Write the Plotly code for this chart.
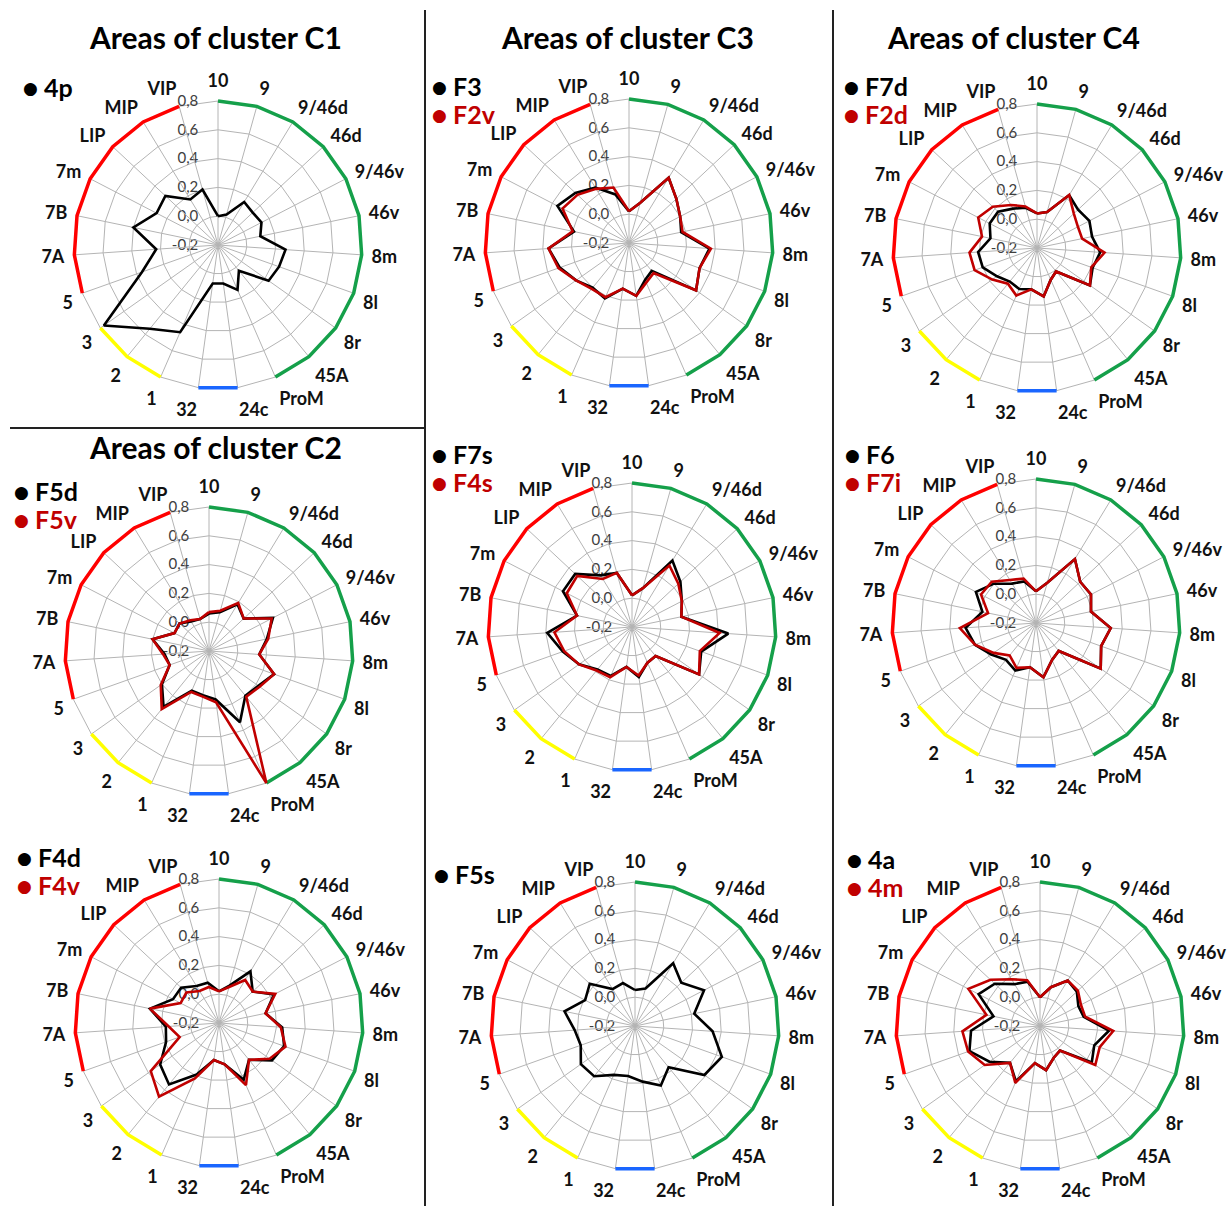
import plotly.graph_objects as go

# Cortical areas around each radar (clockwise from the top)
cats = ["10", "9", "9/46d", "46d", "9/46v", "46v", "8m", "8l", "8r", "45A", "ProM",
        "24c", "32", "1", "2", "3", "5", "7A", "7B", "7m", "LIP", "MIP", "VIP"]

# Region groups drawn as coloured arcs on the outer ring
grp_prefrontal = cats[0:11]
grp_cingulate = cats[11:13]
grp_somato = cats[13:16]
grp_parietal = cats[16:23]

# Connectivity profiles
v_4p  = [0.00, 0.02, 0.15, 0.13, 0.14, 0.10, 0.27, 0.25, 0.23, 0.03, 0.14, 0.07, 0.07,
         0.46, 0.55, 0.77, 0.36, 0.23, 0.40, 0.28, 0.30, 0.17, 0.20]
v_F5d = [0.06, 0.08, 0.18, 0.13, 0.30, 0.21, 0.15, 0.28, 0.22, 0.20, 0.34, 0.14, 0.11,
         0.10, 0.30, 0.20, 0.09, 0.11, 0.20, 0.07, 0.08, 0.04, 0.03]
v_F5v = [0.07, 0.09, 0.19, 0.13, 0.29, 0.22, 0.15, 0.28, 0.23, 0.21, 0.80, 0.16, 0.12,
         0.11, 0.32, 0.21, 0.09, 0.12, 0.20, 0.07, 0.08, 0.05, 0.03]
v_F4d = [0.02, 0.07, 0.22, 0.12, 0.23, 0.13, 0.24, 0.28, 0.25, 0.13, 0.23, 0.09, 0.06,
         0.19, 0.35, 0.30, 0.19, 0.17, 0.29, 0.16, 0.16, 0.10, 0.09]
v_F4v = [0.02, 0.06, 0.15, 0.12, 0.24, 0.13, 0.23, 0.29, 0.23, 0.13, 0.27, 0.09, 0.06,
         0.22, 0.46, 0.38, 0.09, 0.15, 0.29, 0.10, 0.11, 0.06, 0.06]
v_F3  = [0.02, 0.09, 0.33, 0.25, 0.20, 0.17, 0.36, 0.32, 0.37, 0.05, 0.08, 0.17, 0.12,
         0.22, 0.20, 0.25, 0.31, 0.36, 0.19, 0.36, 0.31, 0.25, 0.15]
v_F2v = [0.02, 0.09, 0.33, 0.25, 0.20, 0.18, 0.37, 0.32, 0.37, 0.07, 0.10, 0.17, 0.12,
         0.21, 0.21, 0.25, 0.32, 0.36, 0.20, 0.32, 0.29, 0.24, 0.20]
v_F7s = [0.02, 0.08, 0.34, 0.26, 0.19, 0.15, 0.47, 0.31, 0.37, 0.06, 0.07, 0.15, 0.08,
         0.17, 0.18, 0.25, 0.31, 0.39, 0.19, 0.34, 0.34, 0.22, 0.19]
v_F4s = [0.02, 0.08, 0.30, 0.24, 0.19, 0.15, 0.41, 0.30, 0.37, 0.06, 0.07, 0.14, 0.08,
         0.18, 0.19, 0.25, 0.30, 0.34, 0.19, 0.31, 0.32, 0.19, 0.19]
v_F5s = [0.05, 0.07, 0.31, 0.24, 0.34, 0.22, 0.34, 0.44, 0.39, 0.17, 0.25, 0.19, 0.15,
         0.17, 0.25, 0.26, 0.20, 0.22, 0.30, 0.19, 0.23, 0.10, 0.11]
v_F7d = [0.04, 0.06, 0.23, 0.19, 0.21, 0.19, 0.24, 0.21, 0.25, 0.01, 0.04, 0.14, 0.09,
         0.11, 0.10, 0.14, 0.20, 0.21, 0.13, 0.17, 0.17, 0.12, 0.09]
v_F2d = [0.04, 0.06, 0.23, 0.15, 0.12, 0.12, 0.27, 0.20, 0.25, 0.01, 0.04, 0.14, 0.09,
         0.16, 0.12, 0.18, 0.26, 0.27, 0.19, 0.26, 0.22, 0.15, 0.10]
v_F6  = [0.02, 0.09, 0.32, 0.22, 0.23, 0.19, 0.32, 0.28, 0.35, 0.05, 0.08, 0.18, 0.11,
         0.16, 0.13, 0.18, 0.25, 0.29, 0.18, 0.27, 0.20, 0.12, 0.10]
v_F7i = [0.02, 0.09, 0.32, 0.22, 0.23, 0.19, 0.32, 0.28, 0.35, 0.05, 0.08, 0.18, 0.11,
         0.14, 0.09, 0.16, 0.25, 0.33, 0.14, 0.23, 0.22, 0.15, 0.12]
v_4a  = [0.00, 0.08, 0.17, 0.15, 0.10, 0.11, 0.28, 0.20, 0.24, 0.02, 0.04, 0.11, 0.06,
         0.22, 0.13, 0.23, 0.32, 0.28, 0.13, 0.28, 0.23, 0.14, 0.12]
v_4m  = [0.00, 0.08, 0.17, 0.16, 0.12, 0.12, 0.31, 0.24, 0.27, 0.02, 0.04, 0.11, 0.06,
         0.23, 0.13, 0.27, 0.33, 0.34, 0.18, 0.36, 0.27, 0.18, 0.13]

r_ticks = [-0.2, 0.0, 0.2, 0.4, 0.6, 0.8]
r_ticktext = ["-0,2", "0,0", "0,2", "0,4", "0,6", "0,8"]
titles = ["Areas of cluster C1", "Areas of cluster C2", "Areas of cluster C3", "Areas of cluster C4"]

W, H = 1227, 1206
R_MIN, R_MAX = -0.2, 0.8
R_EDGE = 0.82            # small headroom so the outer arcs are not clipped
R = 144 * (R_EDGE - R_MIN) / (R_MAX - R_MIN)   # pixel radius of the polar area
BLACK, RED = "#000000", "#C00000"

# (centre x, centre y, legend dot x, legend first row y, [(name, values, colour), ...])
panels = [
    (218, 245, 30, 88, [("4p", v_4p, BLACK)]),
    (209, 651, 21, 492, [("F5d", v_F5d, BLACK), ("F5v", v_F5v, RED)]),
    (219, 1023, 24, 858, [("F4d", v_F4d, BLACK), ("F4v", v_F4v, RED)]),
    (629, 243, 439, 87, [("F3", v_F3, BLACK), ("F2v", v_F2v, RED)]),
    (632, 627, 439, 455, [("F7s", v_F7s, BLACK), ("F4s", v_F4s, RED)]),
    (635, 1026, 441, 875, [("F5s", v_F5s, BLACK)]),
    (1037, 248, 851, 87, [("F7d", v_F7d, BLACK), ("F2d", v_F2d, RED)]),
    (1036, 623, 852, 455, [("F6", v_F6, BLACK), ("F7i", v_F7i, RED)]),
    (1040, 1026, 854, 860, [("4a", v_4a, BLACK), ("4m", v_4m, RED)]),
]

arc_groups = [(grp_prefrontal, "#15A04A"), (grp_cingulate, "#1A66FF"),
              (grp_somato, "#FFFF00"), (grp_parietal, "#FF0000")]

# Spokes from the centre to the outer ring
spoke_r, spoke_t = [], []
for c in cats:
    spoke_r += [R_MIN, R_MAX, None]
    spoke_t += [c, c, c]

LABEL_FONT = "Lato"
GRID = "#b4b4b4"
fig = go.Figure()
annotations = []
layout_polars = {}

for i, (cx, cy, lx, ly, series) in enumerate(panels):
    sub = "polar" if i == 0 else f"polar{i + 1}"
    layout_polars[sub] = dict(
        domain=dict(x=[(cx - R) / W, (cx + R) / W], y=[1 - (cy + R) / H, 1 - (cy - R) / H]),
        bgcolor="white",
        gridshape="linear",
        angularaxis=dict(
            type="category", categoryarray=cats, rotation=90, direction="clockwise",
            showline=False, showgrid=False, layer="below traces",
            ticks="outside", ticklen=3, tickcolor="rgba(0,0,0,0)",
            tickfont=dict(family=LABEL_FONT, size=18, color="#111111", weight="bold"),
        ),
        radialaxis=dict(
            range=[R_MIN, R_EDGE], angle=90, side="counterclockwise", layer="below traces",
            tickvals=r_ticks, ticktext=r_ticktext,
            showline=False, showgrid=True, gridcolor=GRID, gridwidth=1,
            ticks="outside", ticklen=14, tickcolor="rgba(0,0,0,0)",
            tickfont=dict(family=LABEL_FONT, size=15, color="#404040"),
            tickangle=90,
        ),
    )
    fig.add_trace(go.Scatterpolar(
        r=spoke_r, theta=spoke_t, mode="lines", subplot=sub, connectgaps=False,
        line=dict(color=GRID, width=1), hoverinfo="skip", showlegend=False,
    ))
    # Coloured arcs marking the region groups
    for grp, col in arc_groups:
        fig.add_trace(go.Scatterpolar(
            r=[R_MAX] * len(grp), theta=grp, mode="lines", subplot=sub,
            line=dict(color=col, width=3.5), cliponaxis=False,
            hoverinfo="skip", showlegend=False,
        ))
    # Profiles (closed polygons)
    for name, vals, col in series:
        fig.add_trace(go.Scatterpolar(
            r=vals + vals[:1], theta=cats + cats[:1], mode="lines", subplot=sub,
            line=dict(color=col, width=2.6), cliponaxis=False,
            name=name, showlegend=False,
        ))
    # Legend entries
    for k, (name, vals, col) in enumerate(series):
        yy = ly + k * 28
        annotations.append(dict(x=lx / W, y=1 - yy / H, xref="paper", yref="paper",
                                text="●", showarrow=False, xanchor="center", yanchor="middle",
                                font=dict(family="DejaVu Sans", size=17, color=col)))
        annotations.append(dict(x=(lx + 12) / W, y=1 - (yy - 1) / H, xref="paper", yref="paper",
                                text=name, showarrow=False, xanchor="left", yanchor="middle",
                                font=dict(family=LABEL_FONT, size=25, color=col, weight="bold")))

# Section titles
for txt, (tx, ty) in zip(titles, [(215, 37), (215, 447), (627, 37), (1013, 37)]):
    annotations.append(dict(x=tx / W, y=1 - ty / H, xref="paper", yref="paper", text=txt,
                            showarrow=False, xanchor="center", yanchor="middle",
                            font=dict(family=LABEL_FONT, size=30, color="#000000", weight="bold")))

shapes = [
    dict(type="line", xref="paper", yref="paper", x0=425 / W, x1=425 / W, y0=0, y1=1 - 10 / H,
         line=dict(color="#222222", width=2)),
    dict(type="line", xref="paper", yref="paper", x0=833 / W, x1=833 / W, y0=0, y1=1 - 10 / H,
         line=dict(color="#222222", width=2)),
    dict(type="line", xref="paper", yref="paper", x0=10 / W, x1=425 / W, y0=1 - 428 / H, y1=1 - 428 / H,
         line=dict(color="#222222", width=2)),
]

fig.update_layout(
    width=W, height=H, margin=dict(l=0, r=0, t=0, b=0),
    paper_bgcolor="white", plot_bgcolor="white",
    showlegend=False, annotations=annotations, shapes=shapes,
    **layout_polars,
)

fig.write_html("out.html")
